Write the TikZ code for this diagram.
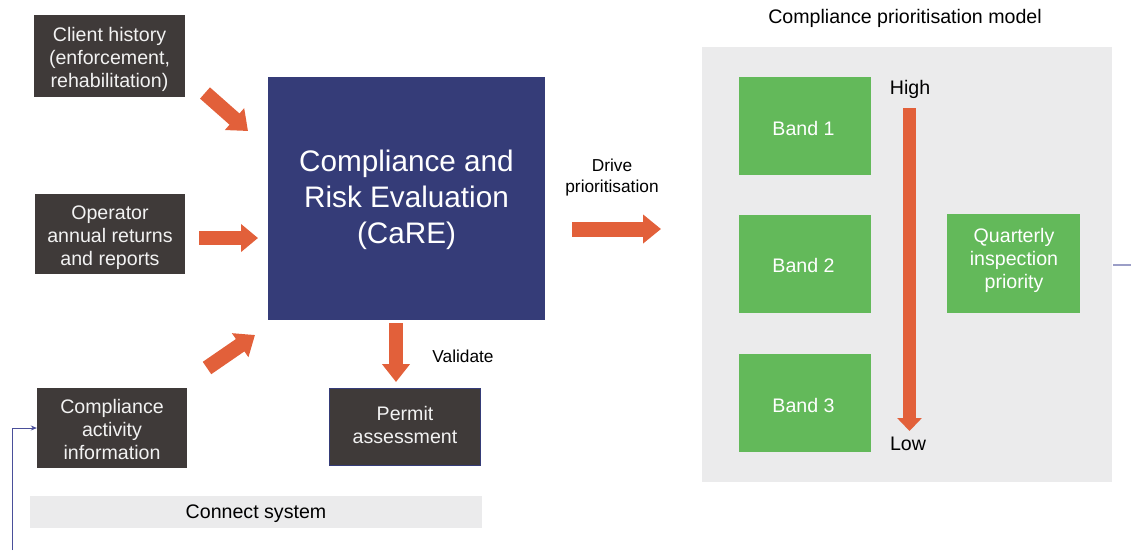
\documentclass[tikz,border=0pt]{standalone}
\usepackage{fontspec}
\setmainfont{Liberation Sans}
\usetikzlibrary{arrows.meta,calc}
\definecolor{darkbox}{HTML}{3F3A39}
\definecolor{carebox}{HTML}{353C78}
\definecolor{orangearr}{HTML}{E2603A}
\definecolor{greenbox}{HTML}{63B95A}
\definecolor{panelgray}{HTML}{EBEBEC}
\definecolor{linkblue}{HTML}{4A4F9A}
\definecolor{boxtext}{HTML}{F2F2F2}
\tikzset{
  darknode/.style={fill=darkbox, inner sep=0pt},
  darktext/.style={text=boxtext, align=center, inner sep=0pt,
    font=\fontsize{19.6}{23}\selectfont},
  band/.style={fill=greenbox, inner sep=0pt, minimum width=132pt, minimum height=98pt},
  bandtext/.style={text=white, align=center, inner sep=0pt, font=\fontsize{19.6}{23}\selectfont},
  lbl/.style={text=black, align=center, inner sep=0pt, font=\fontsize{19.6}{23}\selectfont},
  smalllbl/.style={text=black, align=center, inner sep=0pt, font=\fontsize{17.3}{21}\selectfont},
  blockarrow/.style={draw=orangearr, line width=15pt,
    -{Triangle[width=28pt,length=18pt]}},
  thinlink/.style={draw=linkblue, line width=0.8pt, -{Stealth[length=6pt,width=5pt]}}
}
\begin{document}
\begin{tikzpicture}[x=1pt,y=-1pt]
\useasboundingbox (0,0) rectangle (1131,550);
% right panel
\node[fill=panelgray, minimum width=410pt, minimum height=435pt, inner sep=0pt] (panel) at (907,264.5) {};
\node[lbl] (title) at (905,18) {Compliance prioritisation model};
% left boxes
\node[darknode, minimum width=151pt, minimum height=82pt] (client) at (109.5,56) {};
\node[darktext] (clientT) at ($(client.center)+(0,3)$) {Client history\\(enforcement,\\rehabilitation)};
\node[darknode, minimum width=150pt, minimum height=80pt] (operator) at (110,234) {};
\node[darktext] (operatorT) at ($(operator.center)+(0,4)$) {Operator\\annual returns\\and reports};
\node[darknode, minimum width=150pt, minimum height=80pt] (activity) at (112,428) {};
\node[darktext] (activityT) at ($(activity.center)+(0,1)$) {Compliance\\activity\\information};
% CaRE
\node[fill=carebox, inner sep=0pt, minimum width=277pt, minimum height=243pt] (care) at (406.5,198.5) {};
\node[text=white, align=center, inner sep=0pt, font=\fontsize{29.7}{36}\selectfont] (careT)
  at ($(care.center)+(0,1)$) {Compliance and\\Risk Evaluation\\(CaRE)};
% permit
\node[darknode, draw=carebox, line width=1pt, minimum width=151pt, minimum height=77pt] (permit) at (405,427) {};
\node[darktext] (permitT) at ($(permit.center)+(0,-2.5)$) {Permit\\assessment};
% connect system
\node[fill=panelgray, minimum width=452pt, minimum height=32pt, inner sep=0pt] (connect) at (256,512) {};
\node[lbl] (connectT) at ($(connect.center)+(0,2)$) {Connect system};
% bands
\node[band] (band1) at (805,126) {};
\node[bandtext] (band1T) at ($(band1.center)+(-1.5,2.5)$) {Band 1};
\node[band] (band2) at (805,263.5) {};
\node[bandtext] (band2T) at ($(band2.center)+(-1.5,2)$) {Band 2};
\node[band] (band3) at (805,402.5) {};
\node[bandtext] (band3T) at ($(band3.center)+(-1.5,2.5)$) {Band 3};
\node[band, minimum width=133pt, minimum height=99pt] (quarterly) at (1013.5,263.5) {};
\node[bandtext] (quarterlyT) at ($(quarterly.center)+(0.5,-3.5)$) {Quarterly\\inspection\\priority};
\node[lbl] (high) at (910,89) {High};
\node[lbl] (low) at (908,444) {Low};
\node[smalllbl] (drive) at (612,178) {Drive\\prioritisation};
\node[smalllbl] (validate) at (463,356) {Validate};
% arrow coordinates
\coordinate (a1s) at (205,93);
\coordinate (a1e) at (248,131);
\coordinate (a2s) at (199,238);
\coordinate (a2e) at (258,238);
\coordinate (a3s) at (207,368);
\coordinate (a3e) at (255,335);
\coordinate (vs) at (396,323);
\coordinate (ve) at (396,382);
\coordinate (ds) at (572,229);
\coordinate (de) at (661,229);
\coordinate (hs) at (909.5,108);
\coordinate (he) at (909.5,431);
% block arrows
\draw[blockarrow] (a1s) -- (a1e);
\draw[blockarrow, line width=14pt, -{Triangle[width=27pt,length=17pt]}] (a2s) -- (a2e);
\draw[blockarrow] (a3s) -- (a3e);
\draw[blockarrow, line width=14pt, -{Triangle[width=27pt,length=18pt]}] (vs) -- (ve);
\draw[blockarrow] (ds) -- (de);
\draw[blockarrow, line width=13pt, -{Triangle[width=24pt,length=13pt]}] (hs) -- (he);
% thin links
\coordinate (linkstart) at (12,550);
\coordinate (linkcorner) at (12,428);
\draw[thinlink] (linkstart) -- (linkcorner) -- (activity.west);
\coordinate (rightend) at (1131,265);
\draw[draw=linkblue!55, line width=1.2pt] (panel.east |- rightend) ++(1pt,0) -- (rightend);
\end{tikzpicture}
\end{document}
